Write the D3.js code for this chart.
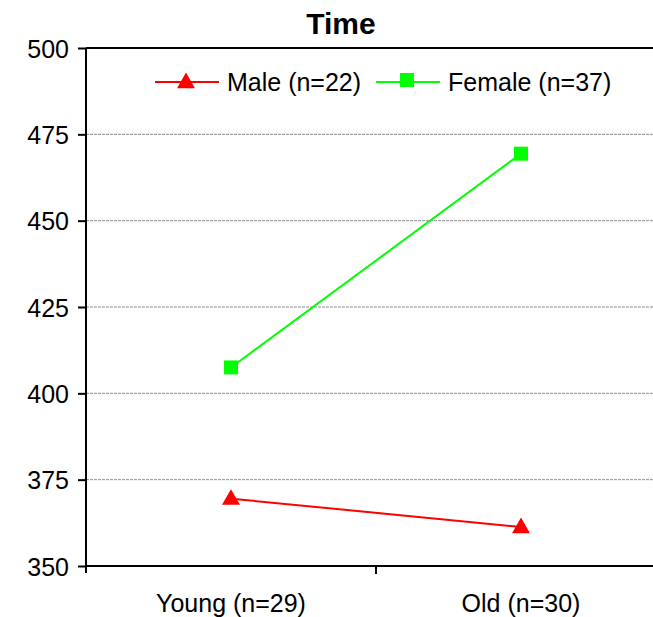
<!DOCTYPE html>
<html>
<head>
<meta charset="utf-8">
<script src="https://cdn.jsdelivr.net/npm/d3@7/dist/d3.min.js"></script>
<style>
  body { margin: 0; background: #fff; }
  svg { display: block; font-family: "Liberation Sans", Arial, sans-serif; }
</style>
</head>
<body>
<script>
const svgWidth = 653,
    svgHeight = 617,
    margin = { top: 48, right: -13, bottom: 51, left: 86 },
    width = svgWidth - margin.left - margin.right,
    height = svgHeight - margin.top - margin.bottom;

// data
const groups = ["Young (n=29)", "Old (n=30)"];
const maleValues = [369.5, 361.3];
const femaleValues = [407.5, 469.4];
const yTicks = [350, 375, 400, 425, 450, 475, 500];
const seriesNames = ["Male (n=22)", "Female (n=37)"];

const series = [
    { name: seriesNames[0], values: maleValues, color: "#ff0000", marker: "triangle" },
    { name: seriesNames[1], values: femaleValues, color: "#00ff00", marker: "square" }
];

var svg = d3.select("body").append("svg")
    .attr("width", svgWidth)
    .attr("height", svgHeight);

var g = svg.append("g")
    .attr("transform", "translate(" + margin.left + "," + margin.top + ")");

var x = d3.scaleBand().domain(groups).range([0, width]);
var y = d3.scaleLinear().domain([350, 500]).range([height, 0]);

// gridlines
g.append("g")
    .selectAll("line")
    .data(yTicks.filter(function (d) { return d > 350 && d < 500; }))
    .enter().append("line")
    .attr("x1", 0)
    .attr("x2", width)
    .attr("y1", function (d) { return y(d); })
    .attr("y2", function (d) { return y(d); })
    .attr("stroke", "#8c8c8c")
    .attr("stroke-width", 1)
    .attr("stroke-dasharray", "3,1");

// top border
g.append("line")
    .attr("x1", 0).attr("x2", width)
    .attr("y1", y(500)).attr("y2", y(500))
    .attr("stroke", "#000").attr("stroke-width", 2);

// y axis
var yAxis = g.append("g")
    .call(d3.axisLeft(y).tickValues(yTicks).tickSize(8).tickPadding(9));
yAxis.select(".domain").attr("stroke-width", 2).attr("d", "M0," + (height + 7) + "V0");
yAxis.selectAll(".tick line").attr("stroke-width", 2);
yAxis.selectAll(".tick text").attr("font-size", 25).attr("fill", "#000").attr("dy", "0.36em");

// x axis
var xAxis = g.append("g")
    .attr("transform", "translate(0," + height + ")")
    .call(d3.axisBottom(x).tickSize(0).tickPadding(28));
xAxis.select(".domain").attr("stroke-width", 2).attr("d", "M0,0H" + width);
xAxis.selectAll(".tick text").attr("font-size", 25).attr("fill", "#000");

// category separator ticks
g.append("g")
    .selectAll("line")
    .data(groups.slice(1))
    .enter().append("line")
    .attr("x1", function (d) { return x(d); })
    .attr("x2", function (d) { return x(d); })
    .attr("y1", height)
    .attr("y2", height + 8)
    .attr("stroke", "#000")
    .attr("stroke-width", 2);

var cx = function (d, i) { return x(groups[i]) + x.bandwidth() / 2; };

var line = d3.line()
    .x(function (d, i) { return x(groups[i]) + x.bandwidth() / 2; })
    .y(function (d) { return y(d); });

function markerPath(type) {
    if (type === "triangle") return d3.symbol().type(d3.symbolTriangle).size(140)();
    return "M-7,-7H7V7H-7Z";
}

series.forEach(function (s) {
    g.append("path")
        .datum(s.values)
        .attr("d", line)
        .attr("fill", "none")
        .attr("stroke", s.color)
        .attr("stroke-width", 2);
    g.selectAll(null)
        .data(s.values)
        .enter().append("path")
        .attr("d", markerPath(s.marker))
        .attr("transform", function (d, i) {
            var dy = s.marker === "triangle" ? 1 : 0;
            return "translate(" + cx(d, i) + "," + (y(d) + dy) + ")";
        })
        .attr("fill", s.color);
});

// legend
var legendX = [155, 376];
var legend = svg.append("g");
series.forEach(function (s, i) {
    var lg = legend.append("g").attr("transform", "translate(" + legendX[i] + ",82)");
    lg.append("line")
        .attr("x1", 0).attr("x2", 64)
        .attr("stroke", s.color).attr("stroke-width", 2);
    lg.append("path")
        .attr("d", markerPath(s.marker))
        .attr("transform", "translate(31," + (s.marker === "triangle" ? 1 : -2) + ")")
        .attr("fill", s.color);
    lg.append("text")
        .attr("x", 72)
        .attr("dy", "0.36em")
        .attr("font-size", 25)
        .attr("fill", "#000")
        .text(s.name);
});

// title
svg.append("text")
    .attr("x", 341)
    .attr("y", 34)
    .attr("text-anchor", "middle")
    .attr("font-size", 30)
    .attr("font-weight", "bold")
    .text("Time");
</script>
</body>
</html>
